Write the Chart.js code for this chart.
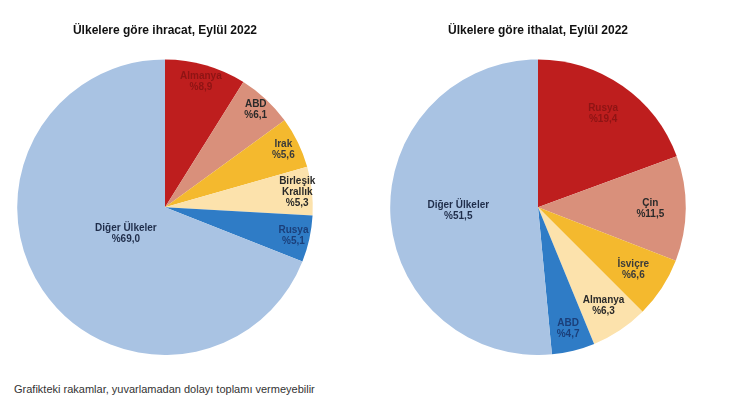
<!DOCTYPE html>
<html>
<head>
<meta charset="utf-8">
<script src="https://cdn.jsdelivr.net/npm/chart.js@4.4.0/dist/chart.umd.min.js"></script>
<style>
  body { margin: 0; background: #fff; width: 750px; height: 399px; overflow: hidden; position: relative; }
  .box { position: absolute; top: 0; width: 330px; height: 355px; }
  #left { left: 0px; }
  #right { left: 373px; }
  #note { position: absolute; left: 14px; top: 383px; font: 11px "Liberation Sans", Arial, sans-serif; color: #333; }
</style>
</head>
<body>
<div class="box" id="left"><canvas id="ihracat"></canvas></div>
<div class="box" id="right"><canvas id="ithalat"></canvas></div>
<div id="note">Grafikteki rakamlar, yuvarlamadan dolayı toplamı vermeyebilir</div>
<script>
// ihracat (export) shares, Eylül 2022
var exportLabels = ['Almanya', 'ABD', 'Irak', 'Birleşik\nKrallık', 'Rusya', 'Diğer Ülkeler'];
var exportValues = [8.9, 6.1, 5.6, 5.3, 5.1, 69.0];

// ithalat (import) shares, Eylül 2022
var importLabels = ['Rusya', 'Çin', 'İsviçre', 'Almanya', 'ABD', 'Diğer Ülkeler'];
var importValues = [19.4, 11.5, 6.6, 6.3, 4.7, 51.5];

var sliceColors = ['#BE1E1E', '#D9907B', '#F4B92E', '#FCE2AC', '#2F7CC6', '#A9C3E3'];
var textColors = ['#8E1414', '#2a2a2a', '#3a3a3a', '#2a2a2a', '#1B3F7A', '#1F2D4A'];

// how far out (fraction of radius) each label sits
var exportLabelRadius = [0.88, 0.9, 0.89, 0.9, 0.89, 0.32];
var importLabelRadius = [0.77, 0.76, 0.77, 0.8, 0.85, 0.54];

function fmt(v) {
  return '%' + v.toFixed(1).replace('.', ',');
}

var sliceLabels = {
  id: 'sliceLabels',
  afterDatasetsDraw: function(chart, args, opts) {
    var ctx = chart.ctx;
    var meta = chart.getDatasetMeta(0);
    ctx.save();
    ctx.font = 'bold 10px "Liberation Sans", Arial, sans-serif';
    ctx.textAlign = 'center';
    ctx.textBaseline = 'middle';
    meta.data.forEach(function(arc, i) {
      var mid = (arc.startAngle + arc.endAngle) / 2;
      var r = arc.outerRadius * opts.radius[i];
      var x = arc.x + Math.cos(mid) * r;
      var y = arc.y + Math.sin(mid) * r;
      var lines = opts.labels[i].split('\n');
      lines.push(fmt(chart.data.datasets[0].data[i]));
      var lh = 11;
      var y0 = y - (lines.length - 1) * lh / 2;
      ctx.fillStyle = textColors[i];
      lines.forEach(function(t, k) {
        ctx.fillText(t, x, y0 + k * lh);
      });
    });
    ctx.restore();
  }
};

function makePie(id, title, labels, values, radius) {
  var ctx = document.getElementById(id).getContext('2d');
  return new Chart(ctx, {
    type: 'pie',
    data: {
      labels: labels,
      datasets: [{
        data: values,
        backgroundColor: sliceColors,
        borderWidth: 0
      }]
    },
    options: {
      responsive: true,
      maintainAspectRatio: false,
      animation: false,
      layout: { padding: { left: 17, right: 17 } },
      plugins: {
        legend: { display: false },
        tooltip: { enabled: false },
        title: {
          display: true,
          text: title,
          color: '#111',
          font: { family: '"Liberation Sans", Arial, sans-serif', size: 12, weight: 'bold' },
          padding: { top: 23, bottom: 22 }
        },
        sliceLabels: { labels: labels, radius: radius }
      }
    },
    plugins: [sliceLabels]
  });
}

makePie('ihracat', 'Ülkelere göre ihracat, Eylül 2022', exportLabels, exportValues, exportLabelRadius);
makePie('ithalat', 'Ülkelere göre ithalat, Eylül 2022', importLabels, importValues, importLabelRadius);
</script>
</body>
</html>
